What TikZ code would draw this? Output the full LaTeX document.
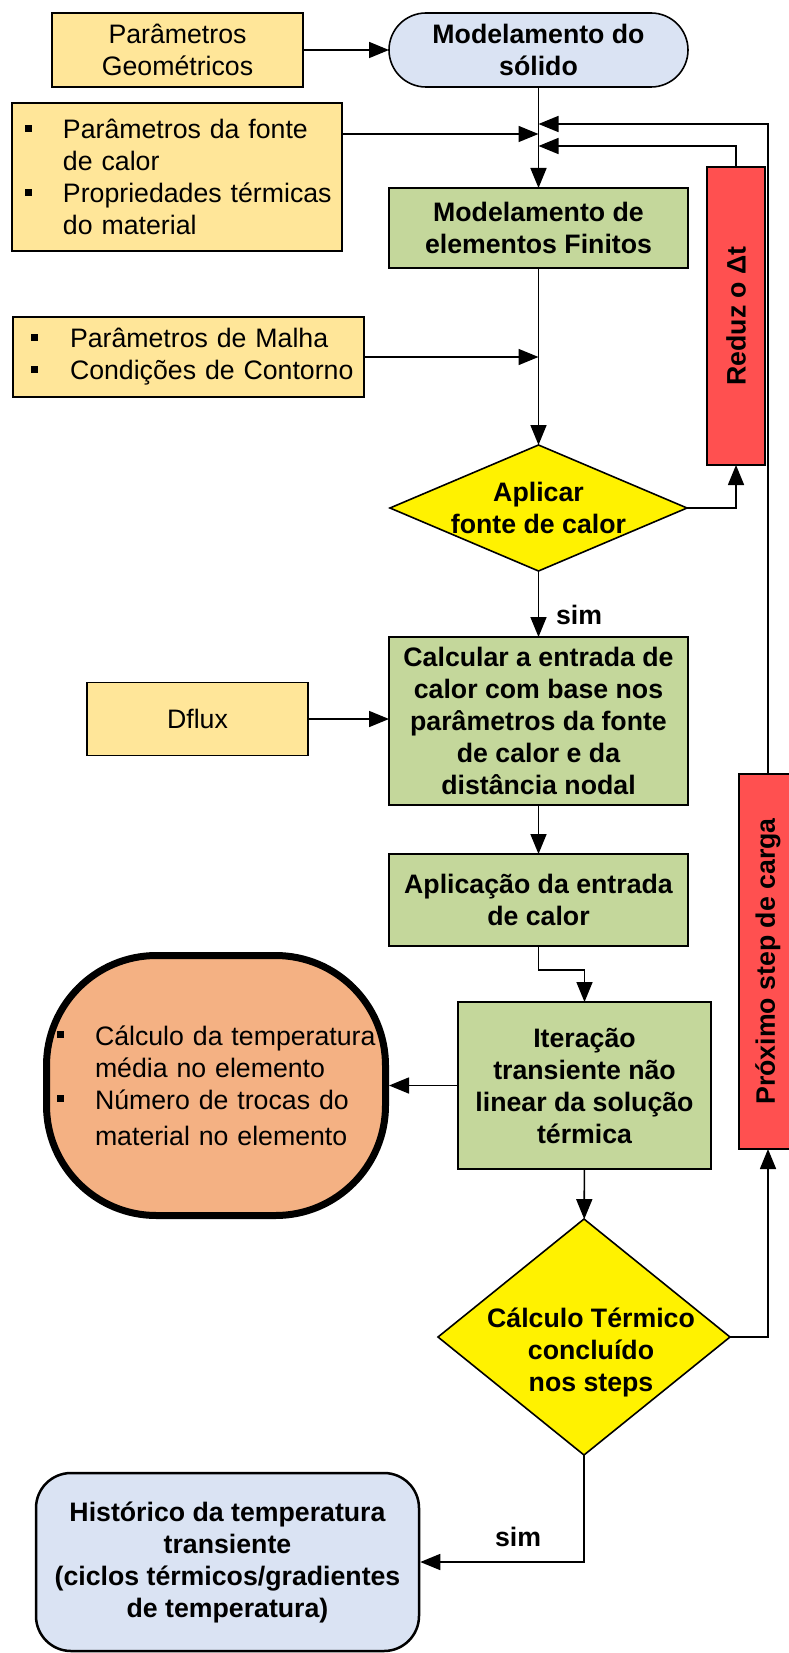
\documentclass[tikz,border=0pt]{standalone}
\usepackage{fontspec}
\setmainfont{Liberation Sans}
\usepackage{graphicx}
\usepackage{tikz}
\usetikzlibrary{arrows.meta}
\usetikzlibrary{shapes.geometric}

\definecolor{amarelo}{HTML}{FFE699}
\definecolor{azul}{HTML}{DAE3F3}
\definecolor{verde}{HTML}{C4D79B}
\definecolor{vermelho}{HTML}{FF5050}
\definecolor{laranja}{HTML}{F4B183}

\newcommand{\boxfont}{\fontsize{26.7}{32}\selectfont}
\newcommand{\bul}{\rule[7pt]{7pt}{7pt}}

\begin{document}
\begin{tikzpicture}[>={Triangle[length=20pt,width=16pt]}, x=1pt, y=-1pt,
        every node/.style={font=\boxfont, inner sep=0pt, outer sep=0pt},
        caixa/.style={draw, line width=1.6pt, minimum width=299pt, align=center},
        entrada/.style={caixa, fill=amarelo},
        processo/.style={caixa, fill=verde, font=\boxfont\bfseries},
        decisao/.style={draw, line width=1.6pt, diamond, fill=yellow},
        reducao/.style={draw, line width=1.6pt, fill=vermelho, minimum width=58pt, font=\boxfont\bfseries},
        rotulo/.style={font=\boxfont\bfseries, align=center},
        seta/.style={->, line width=1.6pt}]
        \def\colx{538.5}

        \useasboundingbox (0,0) rectangle (788,1653);
        \fill[white] (0,0) rectangle (788,1653);

        \node[entrada, minimum width=251pt, minimum height=74pt] (geo) at (177.5,50) {Parâmetros\\Geométricos};
        \node[caixa, fill=azul, rounded corners=37pt, minimum height=74pt, font=\boxfont\bfseries] (solido) at (\colx,50) {Modelamento do\\sólido};

        \node[entrada, minimum width=330pt, minimum height=148pt, text width=330pt, align=left] (fonte) at (177,177)
            {\hspace*{13pt}\makebox[38pt][l]{\bul}Parâmetros da fonte\\\hspace*{51pt}de calor\\
             \hspace*{13pt}\makebox[38pt][l]{\bul}Propriedades térmicas\\\hspace*{51pt}do material};
        \node[processo, minimum height=80pt] (mef) at (\colx,228) {Modelamento de\\elementos Finitos};
        \node[reducao, minimum height=298pt] (reduz) at (736,316) {\rotatebox{90}{Reduz o Δt}};

        \node[entrada, minimum width=351pt, minimum height=80pt, text width=351pt, align=left] (malha) at (188.5,357)
            {\hspace*{18pt}\makebox[39pt][l]{\bul}Parâmetros de Malha\\
             \hspace*{18pt}\makebox[39pt][l]{\bul}Condições de Contorno};

        \node[decisao, minimum width=297pt, minimum height=126pt] (aplicar) at (\colx,508) {};
        \node[rotulo] (aplicarTxt) at (aplicar) {Aplicar\\fonte de calor};
        \node[rotulo] (sim1) at (579,615) {sim};

        \node[processo, minimum height=168pt] (calc) at (\colx,721) {Calcular a entrada de\\calor com base nos\\parâmetros da fonte\\de calor e da\\distância nodal};
        \node[entrada, minimum width=221pt, minimum height=73pt] (dflux) at (197.5,719) {Dflux};
        \node[processo, minimum height=92pt] (aplic) at (\colx,900) {Aplicação da entrada\\de calor};

        \node[processo, minimum width=253pt, minimum height=167pt] (iter) at (584.5,1085.5) {Iteração\\transiente não\\linear da solução\\térmica};
        \node[draw, line width=7pt, outer sep=3.5pt, fill=laranja, rounded corners=110pt, minimum width=339pt, minimum height=260pt,
              text width=339pt, align=left] (media) at (216,1085.5)
            {\hspace*{10.5pt}\makebox[38pt][l]{\bul}Cálculo da temperatura\\\hspace*{48.5pt}média no elemento\\
             \hspace*{10.5pt}\makebox[38pt][l]{\bul}Número de trocas do\\[4pt]\hspace*{48.5pt}material no elemento};
        \node[reducao, minimum height=375pt] (proximo) at (768,961.5) {\rotatebox{90}{Próximo step de carga}};

        \node[decisao, minimum width=292pt, minimum height=236pt] (concl) at (584,1337) {};
        \node[rotulo] (conclTxt) at (591,1352) {Cálculo Térmico\\concluído\\nos steps};
        \node[rotulo] (sim2) at (518,1537) {sim};

        \node[draw, line width=2.5pt, outer sep=1.25pt, fill=azul, rounded corners=35pt, minimum width=383pt, minimum height=178pt,
              align=center, font=\boxfont\bfseries] (hist) at (227.5,1562)
            {Histórico da temperatura\\transiente\\(ciclos térmicos/gradientes\\de temperatura)};

        \coordinate (fb1) at (\colx,124);
        \coordinate (fonteIn) at (\colx,134);
        \coordinate (fb2) at (\colx,146);

        \draw[seta] (geo) -- (solido);
        \draw[seta] (solido) -- (mef);
        \draw[seta] (fonte.east |- fonteIn) -- (fonteIn);
        \draw[seta] (proximo.north) |- (fb1);
        \draw[seta] (reduz.north) |- (fb2);
        \draw[seta] (malha) -- (malha -| solido);
        \draw[seta] (mef) -- (aplicar);
        \draw[seta] (aplicar.east) -| (reduz.south);
        \draw[seta] (aplicar) -- (calc);
        \draw[seta] (dflux.east) -- (dflux.east -| calc.west);
        \draw[seta] (calc) -- (aplic);
        \draw[seta] (aplic.south) -- ++(0,24) -| (iter.north);
        \draw[seta] (iter) -- (media);
        \draw[seta] (iter) -- (concl);
        \draw[seta] (concl.east) -| (proximo.south);
        \draw[seta] (concl.south) |- (hist.east);
    \end{tikzpicture}
\end{document}
